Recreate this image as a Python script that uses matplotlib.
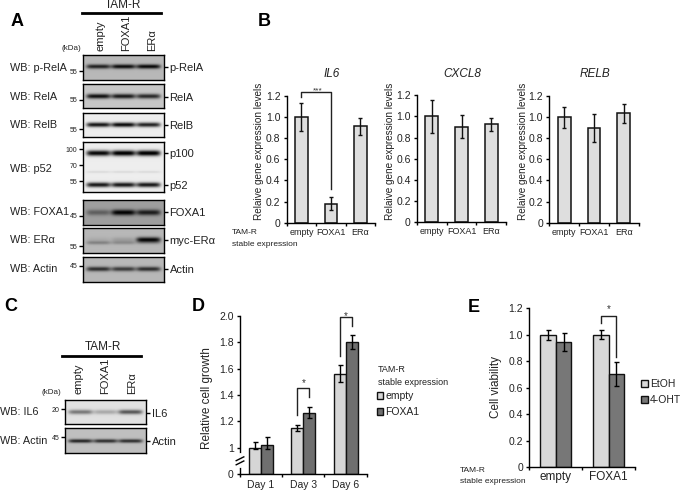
import numpy as np
import matplotlib
matplotlib.use("Agg")
import matplotlib.pyplot as plt

plt.rcParams['font.family'] = ['Liberation Sans', 'DejaVu Sans']

W, H = 683, 490

lanes = ["empty", "FOXA1", "ER\u03b1"]

# panel B values
il6_vals = [1.0, 0.18, 0.915]
il6_errs = [0.13, 0.06, 0.08]
cxcl8_vals = [1.0, 0.905, 0.925]
cxcl8_errs = [0.155, 0.105, 0.065]
relb_vals = [1.0, 0.895, 1.035]
relb_errs = [0.10, 0.135, 0.09]
b_ticks = [0, 0.2, 0.4, 0.6, 0.8, 1.0, 1.2]
b_ticklabels = ["0", "0.2", "0.4", "0.6", "0.8", "1.0", "1.2"]

# panel D values
days = ["Day 1", "Day 3", "Day 6"]
d_empty = [1.0, 1.15, 1.56]
d_empty_err = [0.04, 0.02, 0.065]
d_foxa1 = [1.02, 1.265, 1.80]
d_foxa1_err = [0.06, 0.04, 0.055]
d_ticks = [0, 1, 1.2, 1.4, 1.6, 1.8, 2.0]
d_ticklabels = ["0", "1", "1.2", "1.4", "1.6", "1.8", "2.0"]

# panel E values
e_groups = ["empty", "FOXA1"]
e_etoh = [1.0, 1.0]
e_etoh_err = [0.04, 0.035]
e_oht = [0.945, 0.705]
e_oht_err = [0.07, 0.09]

# blots: background grey, bands (y, thickness, darkness per lane)
prela_bands = [(11.5, 2.2, [0.6, 0.68, 0.7])]
rela_bands = [(13, 2.4, [0.72, 0.68, 0.62])]
relb_bands = [(12.5, 2.3, [0.85, 0.9, 0.8])]
p52_bands = [(11, 2.8, [0.92, 0.97, 0.97]), (30, 1.0, [0.08, 0.08, 0.08]), (43, 2.4, [0.85, 0.85, 0.85])]
foxa1_bands = [(12.5, 2.9, [0.25, 0.62, 0.52])]
era_bands = [(11.5, 2.6, [0.05, 0.1, 0.7]), (14.5, 1.8, [0.2, 0.15, 0.1])]
actin_bands = [(12, 2.3, [0.55, 0.5, 0.55])]
il6_bands = [(12, 2.3, [0.42, 0.22, 0.55])]
actin_c_bands = [(13, 1.9, [0.62, 0.58, 0.58])]

fig = plt.figure(figsize=(W / 100, H / 100), dpi=100)


def axpx(l, t, r, b):
    return fig.add_axes([l / W, 1 - b / H, (r - l) / W, (b - t) / H])


def txt(x, y, s, **kw):
    kw.setdefault("va", "center")
    kw.setdefault("fontsize", 7.8)
    kw.setdefault("color", "#222222")
    fig.text(x / W, 1 - y / H, s, **kw)


def blot(l, t, r, b, bg, bands, left_ticks, right_name, right_y):
    w = r - l
    h = b - t
    xx, yy = np.meshgrid(np.linspace(0, 1, 162), np.linspace(0, h, int(h * 2)))
    img = np.full(xx.shape, bg, dtype=float)
    for y0, sig, dark in bands:
        for c, d in zip([0.19, 0.5, 0.81], dark):
            lane = np.exp(-((xx - c) / 0.15) ** 6)
            img -= d * lane * np.exp(-((yy - y0) / sig) ** 2)
    ax = axpx(l, t, r, b)
    ax.imshow(np.clip(img, 0, 1), cmap="gray", vmin=0, vmax=1, aspect="auto",
              extent=[0, w, h, 0], interpolation="bilinear")
    ax.set_xticks([])
    ax.set_yticks([v for v, _ in left_ticks])
    ax.set_yticklabels([s for _, s in left_ticks], fontsize=5, color="#222222")
    ax.tick_params(axis="y", length=3, width=1, pad=1)
    for sp in ax.spines.values():
        sp.set_linewidth(1)
    tw = ax.twinx()
    tw.set_ylim(h, 0)
    tw.set_yticks(right_y)
    tw.set_yticklabels(right_name, fontsize=8, color="#222222")
    tw.tick_params(axis="y", length=3, width=1, pad=1)
    for sp in tw.spines.values():
        sp.set_visible(False)


def top_labels(x0, x1, line_y, tam_x, tam_y, lane_x, lane_bottom, kda_x, kda_y):
    fig.add_artist(plt.Line2D([x0 / W, x1 / W], [1 - line_y / H] * 2, color="black", lw=2))
    txt(tam_x, tam_y, "TAM-R", ha="center", fontsize=8.5)
    for x, s in zip(lane_x, lanes):
        txt(x, lane_bottom, s, rotation=90, ha="center", va="bottom", fontsize=8)
    txt(kda_x, kda_y, "(kDa)", ha="right", fontsize=5.8)


# panel A
top_labels(82, 161, 13, 123, 5, [100, 126, 152], 51, 81, 49)
blot(83, 55, 164, 80, 0.72, prela_bands, [(16, "55")], ["p-RelA"], [12])
blot(83, 84, 164, 108.5, 0.78, rela_bands, [(16, "55")], ["RelA"], [13])
blot(83, 113, 164, 137.5, 0.93, relb_bands, [(16, "55")], ["RelB"], [12.5])
blot(83, 142, 164, 192, 0.93, p52_bands, [(7, "100"), (23, "70"), (39, "55")], ["p100", "p52"], [11, 43])
blot(83, 200, 164, 225, 0.62, foxa1_bands, [(16, "45")], ["FOXA1"], [12])
blot(83, 228.5, 164, 253, 0.72, era_bands, [(17.5, "55")], ["myc-ER\u03b1"], [11.5])
blot(83, 257, 164, 282, 0.72, actin_bands, [(9, "45")], ["Actin"], [12])
for y, s in zip([68, 97, 125, 169, 212, 240, 269],
                ["p-RelA", "RelA", "RelB", "p52", "FOXA1", "ER\u03b1", "Actin"]):
    txt(10, y, "WB: " + s)

# panel C
top_labels(62, 141, 356, 103, 347, [78, 105, 132], 394, 61, 392)
blot(65, 400, 146, 424, 0.88, il6_bands, [(9, "20")], ["IL6"], [13])
blot(65, 428, 146, 453, 0.75, actin_c_bands, [(9, "45")], ["Actin"], [13])
txt(0, 412, "WB: IL6")
txt(0, 441, "WB: Actin")

# panel letters
for x, y, s in [(11, 22, "A"), (258, 21, "B"), (4, 306, "C"), (192, 306, "D"), (468, 307, "E")]:
    txt(x, y, s, fontsize=13, fontweight="bold", color="black")


def style(ax):
    ax.spines["top"].set_visible(False)
    ax.spines["right"].set_visible(False)
    ax.spines["left"].set_linewidth(1)
    ax.spines["bottom"].set_linewidth(1)
    ax.patch.set_alpha(0)


def gene_panel(rect, vals, errs, title, title_x, ylab_x):
    ax = axpx(*rect)
    style(ax)
    x = np.arange(3)
    ax.bar(x, vals, width=0.43, color="#dedede", edgecolor="#111111", linewidth=1.1,
           yerr=errs, ecolor="#111111", error_kw=dict(elinewidth=1, capsize=1.5, capthick=1))
    ax.set_xlim(-0.5, 2.5)
    ax.set_ylim(0, 1.2)
    ax.set_yticks(b_ticks)
    ax.set_yticklabels(b_ticklabels, fontsize=7.5, color="#222222")
    ax.set_xticks(x)
    ax.set_xticklabels(lanes, fontsize=6.5, color="#222222")
    ax.set_xticks([-0.5, 0.5, 1.5, 2.5], minor=True)
    ax.tick_params(axis="x", which="major", length=0, pad=3.5)
    ax.tick_params(axis="x", which="minor", length=2.5, width=1)
    ax.tick_params(axis="y", length=2.5, width=1, pad=2)
    txt(title_x, 74, title, ha="center", fontstyle="italic", fontsize=8.5)
    txt(ylab_x, 151, "Relaive gene expression levels", rotation=90, ha="center", fontsize=7.2)
    return ax


ax_il6 = gene_panel((286.7, 96, 375, 222.7), il6_vals, il6_errs, "IL6", 332, 259)
gene_panel((417, 95.3, 506, 222.3), cxcl8_vals, cxcl8_errs, "CXCL8", 462, 390)
gene_panel((549.3, 96, 638.7, 222.7), relb_vals, relb_errs, "RELB", 595, 523)
ax_il6.plot([0, 0, 1, 1], [1.187, 1.238, 1.238, 0.319], color="#222222", lw=1, clip_on=False)
ax_il6.text(0.55, 1.245, "***", ha="center", va="center", fontsize=6, color="#333333")
txt(232, 232, "TAM-R", fontsize=6)
txt(232, 244, "stable expression", fontsize=6)


# panel D, y axis has a break between 0 and 1
def d_forward(v):
    return np.interp(v, [0, 1, 2], [0, 26.6, 158.6])


def d_inverse(v):
    return np.interp(v, [0, 26.6, 158.6], [0, 1, 2])


ax_d = axpx(240, 315.7, 366.7, 474.3)
style(ax_d)
ax_d.set_yscale("function", functions=(d_forward, d_inverse))
x = np.arange(3)
bw = 0.285
err_kw = dict(elinewidth=1, capsize=1.8, capthick=1)
b1 = ax_d.bar(x - bw / 2, d_empty, bw, color="#d6d6d6", edgecolor="#111111", linewidth=1,
              yerr=d_empty_err, error_kw=err_kw, label="empty")
b2 = ax_d.bar(x + bw / 2, d_foxa1, bw, color="#6f6f6f", edgecolor="#111111", linewidth=1,
              yerr=d_foxa1_err, error_kw=err_kw, label="FOXA1")
ax_d.set_xlim(-0.5, 2.5)
ax_d.set_ylim(0, 2.0)
ax_d.set_yticks(d_ticks)
ax_d.set_yticklabels(d_ticklabels, fontsize=7.5, color="#222222")
ax_d.minorticks_off()
ax_d.set_xticks(x)
ax_d.set_xticklabels(days, fontsize=7.5, color="#222222")
ax_d.set_xticks([-0.5, 0.5, 1.5, 2.5], minor=True)
ax_d.tick_params(axis="x", which="major", length=0, pad=4)
ax_d.tick_params(axis="x", which="minor", length=2.5, width=1)
ax_d.tick_params(axis="y", length=2.5, width=1, pad=2)
ax_d.plot([0, 0], [0.05, 0.125], transform=ax_d.transAxes, color="white", lw=2, clip_on=False, zorder=5)
for dy in [0.072, 0.098]:
    ax_d.plot([-0.03, 0.03], [dy - 0.012, dy + 0.012], transform=ax_d.transAxes,
              color="black", lw=1, clip_on=False, zorder=6)
ax_d.plot([1 - bw / 2, 1 - bw / 2, 1 + bw / 2, 1 + bw / 2], [1.247, 1.449, 1.449, 1.386],
          color="#222222", lw=1)
ax_d.text(1, 1.49, "*", ha="center", va="center", fontsize=7, color="#333333")
ax_d.plot([2 - bw / 2, 2 - bw / 2, 2 + bw / 2, 2 + bw / 2], [1.694, 1.99, 1.99, 1.924],
          color="#222222", lw=1, clip_on=False)
ax_d.text(2, 2.03, "*", ha="center", va="center", fontsize=7, color="#333333")
txt(207, 398, "Relative cell growth", rotation=90, ha="center", fontsize=8.5)
txt(378, 369, "TAM-R", fontsize=6.5)
txt(378, 382, "stable expression", fontsize=6.5)
ax_d.legend(handles=[b1, b2], loc="upper left", bbox_to_anchor=(137 / 126.7, (474.3 - 391) / 158.6),
            frameon=False, fontsize=7.5, handlelength=0.6, handleheight=0.6, handletextpad=0.2,
            labelspacing=0.6, borderpad=0, borderaxespad=0, labelcolor="#222222")

# panel E
ax_e = axpx(529.3, 308.3, 635, 467.3)
style(ax_e)
x = np.arange(2)
bw = 0.295
b1 = ax_e.bar(x - bw / 2, e_etoh, bw, color="#d8d8d8", edgecolor="#111111", linewidth=1,
              yerr=e_etoh_err, error_kw=err_kw, label="EtOH")
b2 = ax_e.bar(x + bw / 2, e_oht, bw, color="#777777", edgecolor="#111111", linewidth=1,
              yerr=e_oht_err, error_kw=err_kw, label="4-OHT")
ax_e.set_xlim(-0.5, 1.5)
ax_e.set_ylim(0, 1.2)
ax_e.set_yticks(b_ticks)
ax_e.set_yticklabels(b_ticklabels, fontsize=7.5, color="#222222")
ax_e.set_xticks(x)
ax_e.set_xticklabels(e_groups, fontsize=8.5, color="#222222")
ax_e.set_xticks([-0.5, 0.5, 1.5], minor=True)
ax_e.tick_params(axis="x", which="major", length=0, pad=3)
ax_e.tick_params(axis="x", which="minor", length=2.5, width=1)
ax_e.tick_params(axis="y", length=2.5, width=1, pad=2)
ax_e.plot([1 - bw / 2, 1 - bw / 2, 1 + bw / 2, 1 + bw / 2], [1.087, 1.145, 1.145, 0.835],
          color="#222222", lw=1)
ax_e.text(1, 1.195, "*", ha="center", va="center", fontsize=7, color="#333333")
txt(496, 387, "Cell viability", rotation=90, ha="center", fontsize=8.5)
txt(460, 470, "TAM-R", fontsize=6)
txt(460, 481, "stable expression", fontsize=6)
ax_e.legend(handles=[b1, b2], loc="upper left", bbox_to_anchor=(112 / 105.7, (467.3 - 379) / 159),
            frameon=False, fontsize=7.5, handlelength=0.65, handleheight=0.65, handletextpad=0.2,
            labelspacing=0.6, borderpad=0, borderaxespad=0, labelcolor="#222222")

fig.savefig("out.png", dpi=100)
